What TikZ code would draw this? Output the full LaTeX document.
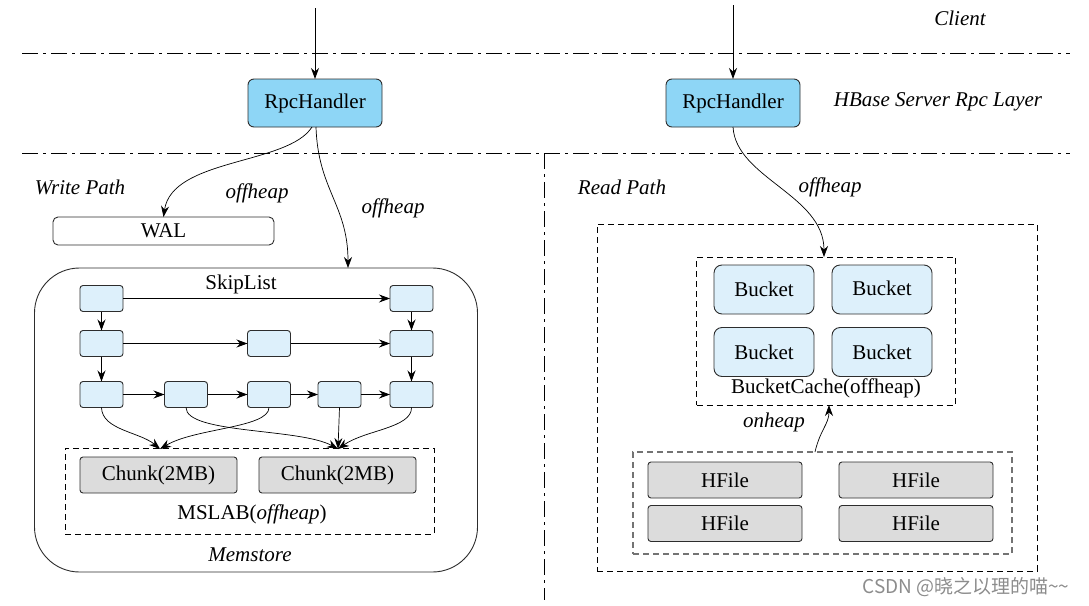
\documentclass[tikz,border=0pt]{standalone}
\usepackage{fontspec}
\setmainfont{Liberation Serif}
\newfontfamily\cjkfont{Noto Sans CJK SC}
\usetikzlibrary{arrows.meta}
\definecolor{rpcblue}{RGB}{142,214,246}
\definecolor{nodeblue}{RGB}{221,240,251}
\definecolor{boxgray}{RGB}{220,220,220}
\definecolor{edge}{RGB}{45,45,45}
\begin{document}
\begin{tikzpicture}[x=1pt,y=-1pt,
  font=\fontsize{21}{25}\selectfont,
  every node/.style={inner sep=0pt, outer sep=0pt},
  rpc/.style={draw=edge, fill=rpcblue, rounded corners=6pt, minimum width=134pt, minimum height=48pt, line width=0.9pt},
  sk/.style={draw=edge, fill=nodeblue, rounded corners=3pt, minimum width=43pt, minimum height=26pt, line width=0.9pt},
  bucket/.style={draw=edge, fill=nodeblue, rounded corners=8pt, minimum width=100pt, minimum height=49pt, line width=0.9pt},
  gbox/.style={draw=edge, fill=boxgray, rounded corners=3pt, minimum height=36pt, line width=0.9pt},
  walbox/.style={draw=edge, fill=white, rounded corners=5pt, minimum width=221pt, minimum height=28pt, line width=0.9pt},
  dbox/.style={draw=black, dash pattern=on 6pt off 4pt, line width=0.9pt},
  gdbox/.style={draw=black!55, dash pattern=on 6pt off 4pt, line width=1.1pt},
  ddash/.style={draw=black, dash pattern=on 16pt off 5pt on 3pt off 5pt, line width=0.9pt},
  arr/.style={-{Stealth[length=11pt,width=8pt]}, line width=0.9pt, draw=black},
  conn/.style={-{Stealth[length=11pt,width=8pt]}, line width=0.7pt, draw=black},
  lab/.style={font=\itshape\fontsize{21}{25}\selectfont}
]
\useasboundingbox (0,0) rectangle (1089,605);

% layer separators
\draw[ddash] (22,53) -- (1070,53);
\draw[ddash] (22,153) -- (1070,153);
\draw[ddash] (544,153) -- (544,600);

% labels
\node[lab] (client) at (960,18) {Client};
\node[lab] (layer) at (938,102) {HBase Server Rpc Layer};
\node[lab] (wpath) at (80,187) {Write Path};
\node[lab] (rpath) at (622,187) {Read Path};
\node[lab] (off1) at (257,193) {offheap};
\node[lab] (off2) at (393,208) {offheap};
\node[lab] (off3) at (830,187) {offheap};
\node[lab] (onh) at (774,422) {onheap};

% Rpc handlers
\coordinate (in1) at (315,8);
\coordinate (in2) at (733,5);
\node[rpc] (rpc1) at (315,103) {RpcHandler};
\node[rpc] (rpc2) at (733,103) {RpcHandler};
\draw[arr] (in1) -- (rpc1.north);
\draw[arr] (in2) -- (rpc2.north);

% Write path
\node[walbox] (wal) at (163.5,231) {WAL};
\node[draw=edge, rounded corners=45pt, minimum width=443pt, minimum height=304pt, line width=0.9pt] (mem) at (256,420) {};
\node[lab] (memlab) at (250,555) {Memstore};
\node (sklab) at (241,284) {SkipList};
\coordinate (memin) at (348,268);
\draw[conn] ([xshift=-3pt]rpc1.south) .. controls (288,165) and (172,158) .. (wal.north);
\draw[conn] ([xshift=1pt]rpc1.south) .. controls (318,190) and (348,205) .. (memin);

% skiplist nodes
\node[sk] (s11) at (101.5,298.5) {};
\node[sk] (s15) at (411.5,298.5) {};
\node[sk] (s21) at (101.5,343.5) {};
\node[sk] (s23) at (269,343.5) {};
\node[sk] (s25) at (411.5,343.5) {};
\node[sk] (s31) at (101.5,394.5) {};
\node[sk] (s32) at (186,394.5) {};
\node[sk] (s33) at (269,394.5) {};
\node[sk] (s34) at (339.5,394.5) {};
\node[sk] (s35) at (411.5,394.5) {};
\draw[arr] (s11) -- (s15);
\draw[arr] (s11) -- (s21);
\draw[arr] (s15) -- (s25);
\draw[arr] (s21) -- (s23);
\draw[arr] (s23) -- (s25);
\draw[arr] (s21) -- (s31);
\draw[arr] (s25) -- (s35);
\draw[arr] (s31) -- (s32);
\draw[arr] (s32) -- (s33);
\draw[arr] (s33) -- (s34);
\draw[arr] (s34) -- (s35);

% MSLAB
\node[dbox, minimum width=369pt, minimum height=86pt] (mslab) at (249.5,491) {};
\node[gbox, minimum width=157pt] (c1) at (158.5,475) {Chunk(2MB)};
\node[gbox, minimum width=157pt] (c2) at (337.5,475) {Chunk(2MB)};
\node (mslablab) at (252,514) {MSLAB(\textit{offheap})};
\coordinate (t1) at (160,449);
\coordinate (t2) at (338,449);
\draw[conn] (s31.south) .. controls (102,430) and (140,432) .. (t1);
\draw[conn] (s33.south) .. controls (269,428) and (195,428) .. (t1);
\draw[conn] (s32.south) .. controls (186,434) and (300,428) .. (t2);
\draw[conn] (s34.south) -- (t2);
\draw[conn] (s35.south) .. controls (412,428) and (365,430) .. (t2);

% Read path
\node[dbox, minimum width=440pt, minimum height=347pt] (outer) at (817,397.5) {};
\node[dbox, minimum width=259pt, minimum height=148pt] (bc) at (826,331) {};
\node[bucket] (b1) at (764,289.5) {Bucket};
\node[bucket] (b2) at (882,289.5) {\raisebox{3pt}{Bucket}};
\node[bucket] (b3) at (764,352) {Bucket};
\node[bucket] (b4) at (882,352) {Bucket};
\node (bclab) at (826,388) {BucketCache(offheap)};
\coordinate (bcin) at (824,257);
\draw[conn] (rpc2.south) .. controls (736,178) and (824,195) .. (bcin);

\node[gdbox, minimum width=379pt, minimum height=102pt] (hf) at (822.5,503) {};
\node[gbox, minimum width=154pt] (h1) at (725,480) {HFile};
\node[gbox, minimum width=154pt] (h2) at (916,480) {HFile};
\node[gbox, minimum width=154pt] (h3) at (725,523.5) {HFile};
\node[gbox, minimum width=154pt] (h4) at (916,523.5) {HFile};
\coordinate (oh1) at (815,452);
\coordinate (oh2) at (829,405);
\draw[conn] (oh1) .. controls (820,430) and (829,424) .. (oh2);

% watermark
\node[text=black!45, font=\cjkfont\fontsize{19}{22}\selectfont] (wm) at (966,587) {CSDN @晓之以理的喵\textasciitilde\textasciitilde};
\end{tikzpicture}
\end{document}
